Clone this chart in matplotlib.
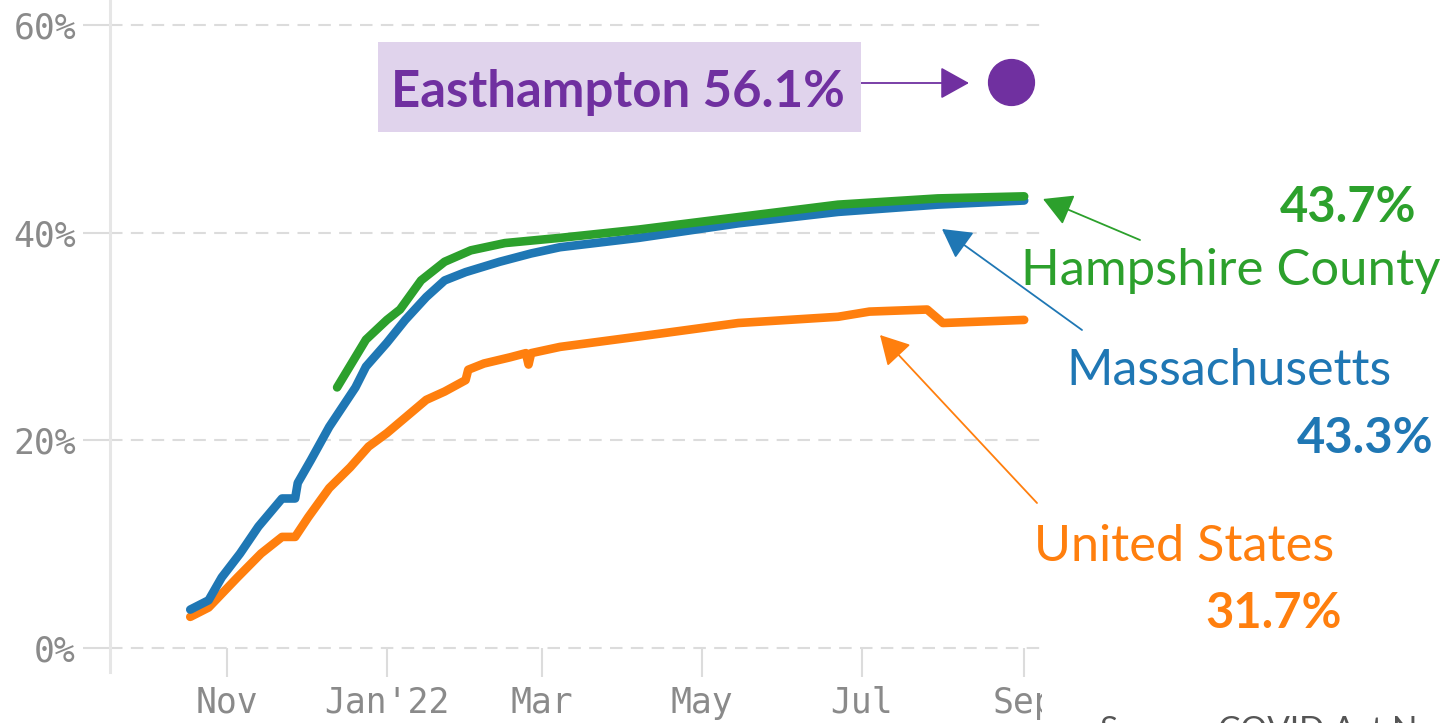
import datetime as dt

import matplotlib
matplotlib.use('Agg')
import matplotlib.dates as mdates
import matplotlib.pyplot as plt
from matplotlib.patches import Rectangle
from matplotlib.transforms import Bbox, TransformedBbox, IdentityTransform

# booster share of population (%)
us_dates = ['2021-10-18', '2021-10-25', '2021-11-05', '2021-11-14', '2021-11-22', '2021-11-27',
            '2021-12-02', '2021-12-10', '2021-12-18', '2021-12-25', '2022-01-01', '2022-01-16',
            '2022-01-23', '2022-01-31', '2022-02-01', '2022-02-07', '2022-02-17', '2022-02-23',
            '2022-02-24', '2022-02-25', '2022-03-08', '2022-04-07', '2022-05-15', '2022-06-22',
            '2022-07-04', '2022-07-26', '2022-08-01', '2022-09-01']
us_vals = [3.0, 3.9, 6.8, 9.1, 10.7, 10.7, 12.6, 15.4, 17.4, 19.4, 20.7, 23.9, 24.7, 25.8, 26.8,
           27.4, 28.0, 28.4, 27.3, 28.4, 29.0, 30.0, 31.3, 31.9, 32.4, 32.6, 31.3, 31.6]

ma_dates = ['2021-10-18', '2021-10-25', '2021-10-30', '2021-11-06', '2021-11-13', '2021-11-22',
            '2021-11-27', '2021-11-28', '2021-12-03', '2021-12-10', '2021-12-15', '2021-12-20',
            '2021-12-24', '2022-01-01', '2022-01-08', '2022-01-16', '2022-01-23', '2022-01-31',
            '2022-02-13', '2022-02-25', '2022-03-08', '2022-04-07', '2022-05-15', '2022-06-22',
            '2022-07-30', '2022-09-01']
ma_vals = [3.7, 4.6, 6.8, 9.1, 11.7, 14.4, 14.4, 15.9, 18.1, 21.3, 23.2, 25.1, 27.1, 29.4, 31.6,
           33.8, 35.4, 36.2, 37.2, 38.0, 38.6, 39.5, 40.9, 42.0, 42.7, 43.1]

hc_dates = ['2021-12-13', '2021-12-24', '2022-01-01', '2022-01-06', '2022-01-14', '2022-01-23',
            '2022-02-02', '2022-02-15', '2022-03-08', '2022-04-07', '2022-05-15', '2022-06-22',
            '2022-07-30', '2022-09-01']
hc_vals = [25.1, 29.7, 31.6, 32.6, 35.4, 37.2, 38.3, 39.0, 39.5, 40.3, 41.5, 42.7, 43.3, 43.5]

east_date = '2022-08-27'
east_val = 54.5

tick_dates = ['2021-11-01', '2022-01-01', '2022-03-01', '2022-05-01', '2022-07-01', '2022-09-01']
tick_labels = ['Nov', "Jan'22", 'Mar', 'May', 'Jul', 'Sep']
y_ticks = [0, 20, 40, 60]
y_labels = ['0%', '20%', '40%', '60%']

BLUE = '#1f77b4'
ORANGE = '#ff7f0e'
GREEN = '#2ca02c'
PURPLE = '#7030a0'
GRID = '#dcdcdc'
TICKTXT = '#8a8a8a'

W, H = 1446, 723


def to_num(ds):
    return [mdates.date2num(dt.datetime.strptime(d, '%Y-%m-%d')) for d in ds]


def fx(x, y):
    # pixel from top-left -> figure fraction
    return x / W, 1 - y / H


fig = plt.figure(figsize=(W / 100, H / 100), dpi=100)
ax = fig.add_axes([110 / W, 51 / H, (1042 - 110) / W, 672 / H])

nov1 = mdates.date2num(dt.datetime(2021, 11, 1))
ax.set_xlim(nov1 - 44.6, nov1 + 310.8)
ax.set_ylim(-2.31, 62.41)

ax.plot(to_num(us_dates), us_vals, color=ORANGE, lw=6.2, solid_capstyle='round', solid_joinstyle='round')
ax.plot(to_num(ma_dates), ma_vals, color=BLUE, lw=6.2, solid_capstyle='round', solid_joinstyle='round')
ax.plot(to_num(hc_dates), hc_vals, color=GREEN, lw=6.2, solid_capstyle='round', solid_joinstyle='round')
ax.plot(to_num([east_date]), [east_val], 'o', ms=33, color=PURPLE, clip_on=False)

for s in ['top', 'right']:
    ax.spines[s].set_visible(False)
ax.spines['bottom'].set_position(('data', 0))
ax.spines['bottom'].set_visible(False)
ax.spines['left'].set_color('#e6e6e6')
ax.spines['left'].set_linewidth(2.2)

ax.set_xticks(to_num(tick_dates))
ax.set_xticklabels(tick_labels)
ax.set_yticks(y_ticks)
ax.set_yticklabels(y_labels)
ax.tick_params(axis='x', direction='out', length=21, width=1.5, color=GRID, pad=6,
               labelsize=25, labelcolor=TICKTXT)
ax.tick_params(axis='y', direction='out', length=19.5, width=1.5, color=GRID, pad=5,
               labelsize=25, labelcolor=TICKTXT)
for lab in ax.get_xticklabels() + ax.get_yticklabels():
    lab.set_fontfamily('DejaVu Sans Mono')
ax.yaxis.grid(True, color=GRID, lw=1.5, linestyle=(0, (6, 4)))
ax.set_axisbelow(True)

# the last month label is cut at the plot edge
clip = TransformedBbox(Bbox.from_extents(0, 0, 1042, H), IdentityTransform())
for tk in ax.xaxis.get_major_ticks():
    tk.label1.set_clip_box(clip)
    tk.label1.set_clip_on(True)

# Easthampton box
bx, by = fx(378, 132)
fig.add_artist(Rectangle((bx, by), 483 / W, 90 / H, transform=fig.transFigure,
                         facecolor='#e0d3ec', edgecolor='none', zorder=1))
fig.text(*fx(391, 107), 'Easthampton 56.1%', color=PURPLE, fontsize=36.6, fontfamily='Lato',
         fontweight='bold', ha='left', va='baseline', zorder=2)

fig.text(*fx(1280, 222), '43.7%', color=GREEN, fontsize=35.2, fontfamily='Lato',
         fontweight='bold', ha='left', va='baseline')
fig.text(*fx(1021, 285), 'Hampshire County', color=GREEN, fontsize=36.6, fontfamily='Lato',
         ha='left', va='baseline')
fig.text(*fx(1066, 385), 'Massachusetts', color=BLUE, fontsize=36, fontfamily='Lato',
         ha='left', va='baseline')
fig.text(*fx(1297, 453), '43.3%', color=BLUE, fontsize=35.2, fontfamily='Lato',
         fontweight='bold', ha='left', va='baseline')
fig.text(*fx(1034, 561), 'United States', color=ORANGE, fontsize=36.4, fontfamily='Lato',
         ha='left', va='baseline')
fig.text(*fx(1205, 628), '31.7%', color=ORANGE, fontsize=35.2, fontfamily='Lato',
         fontweight='bold', ha='left', va='baseline')
fig.text(*fx(1100, 716), 'Source: COVID Act Now', color='#555555', fontsize=24, fontfamily='Lato',
         ha='left', va='top')

arrows = [((850, 83), (969, 83), PURPLE),
          ((1140, 240), (1043, 199), GREEN),
          ((1082, 330), (942, 229), BLUE),
          ((1037, 503), (880, 335), ORANGE)]
for (tx, ty), (hx, hy), c in arrows:
    ax.annotate('', xy=(hx, H - hy), xytext=(tx, H - ty), xycoords='figure pixels',
                textcoords='figure pixels', annotation_clip=False,
                arrowprops=dict(arrowstyle='-|>,head_length=0.9,head_width=0.5', color=c,
                                lw=1.3, mutation_scale=20, shrinkA=0, shrinkB=0))

fig.savefig('out.png', dpi=100)
